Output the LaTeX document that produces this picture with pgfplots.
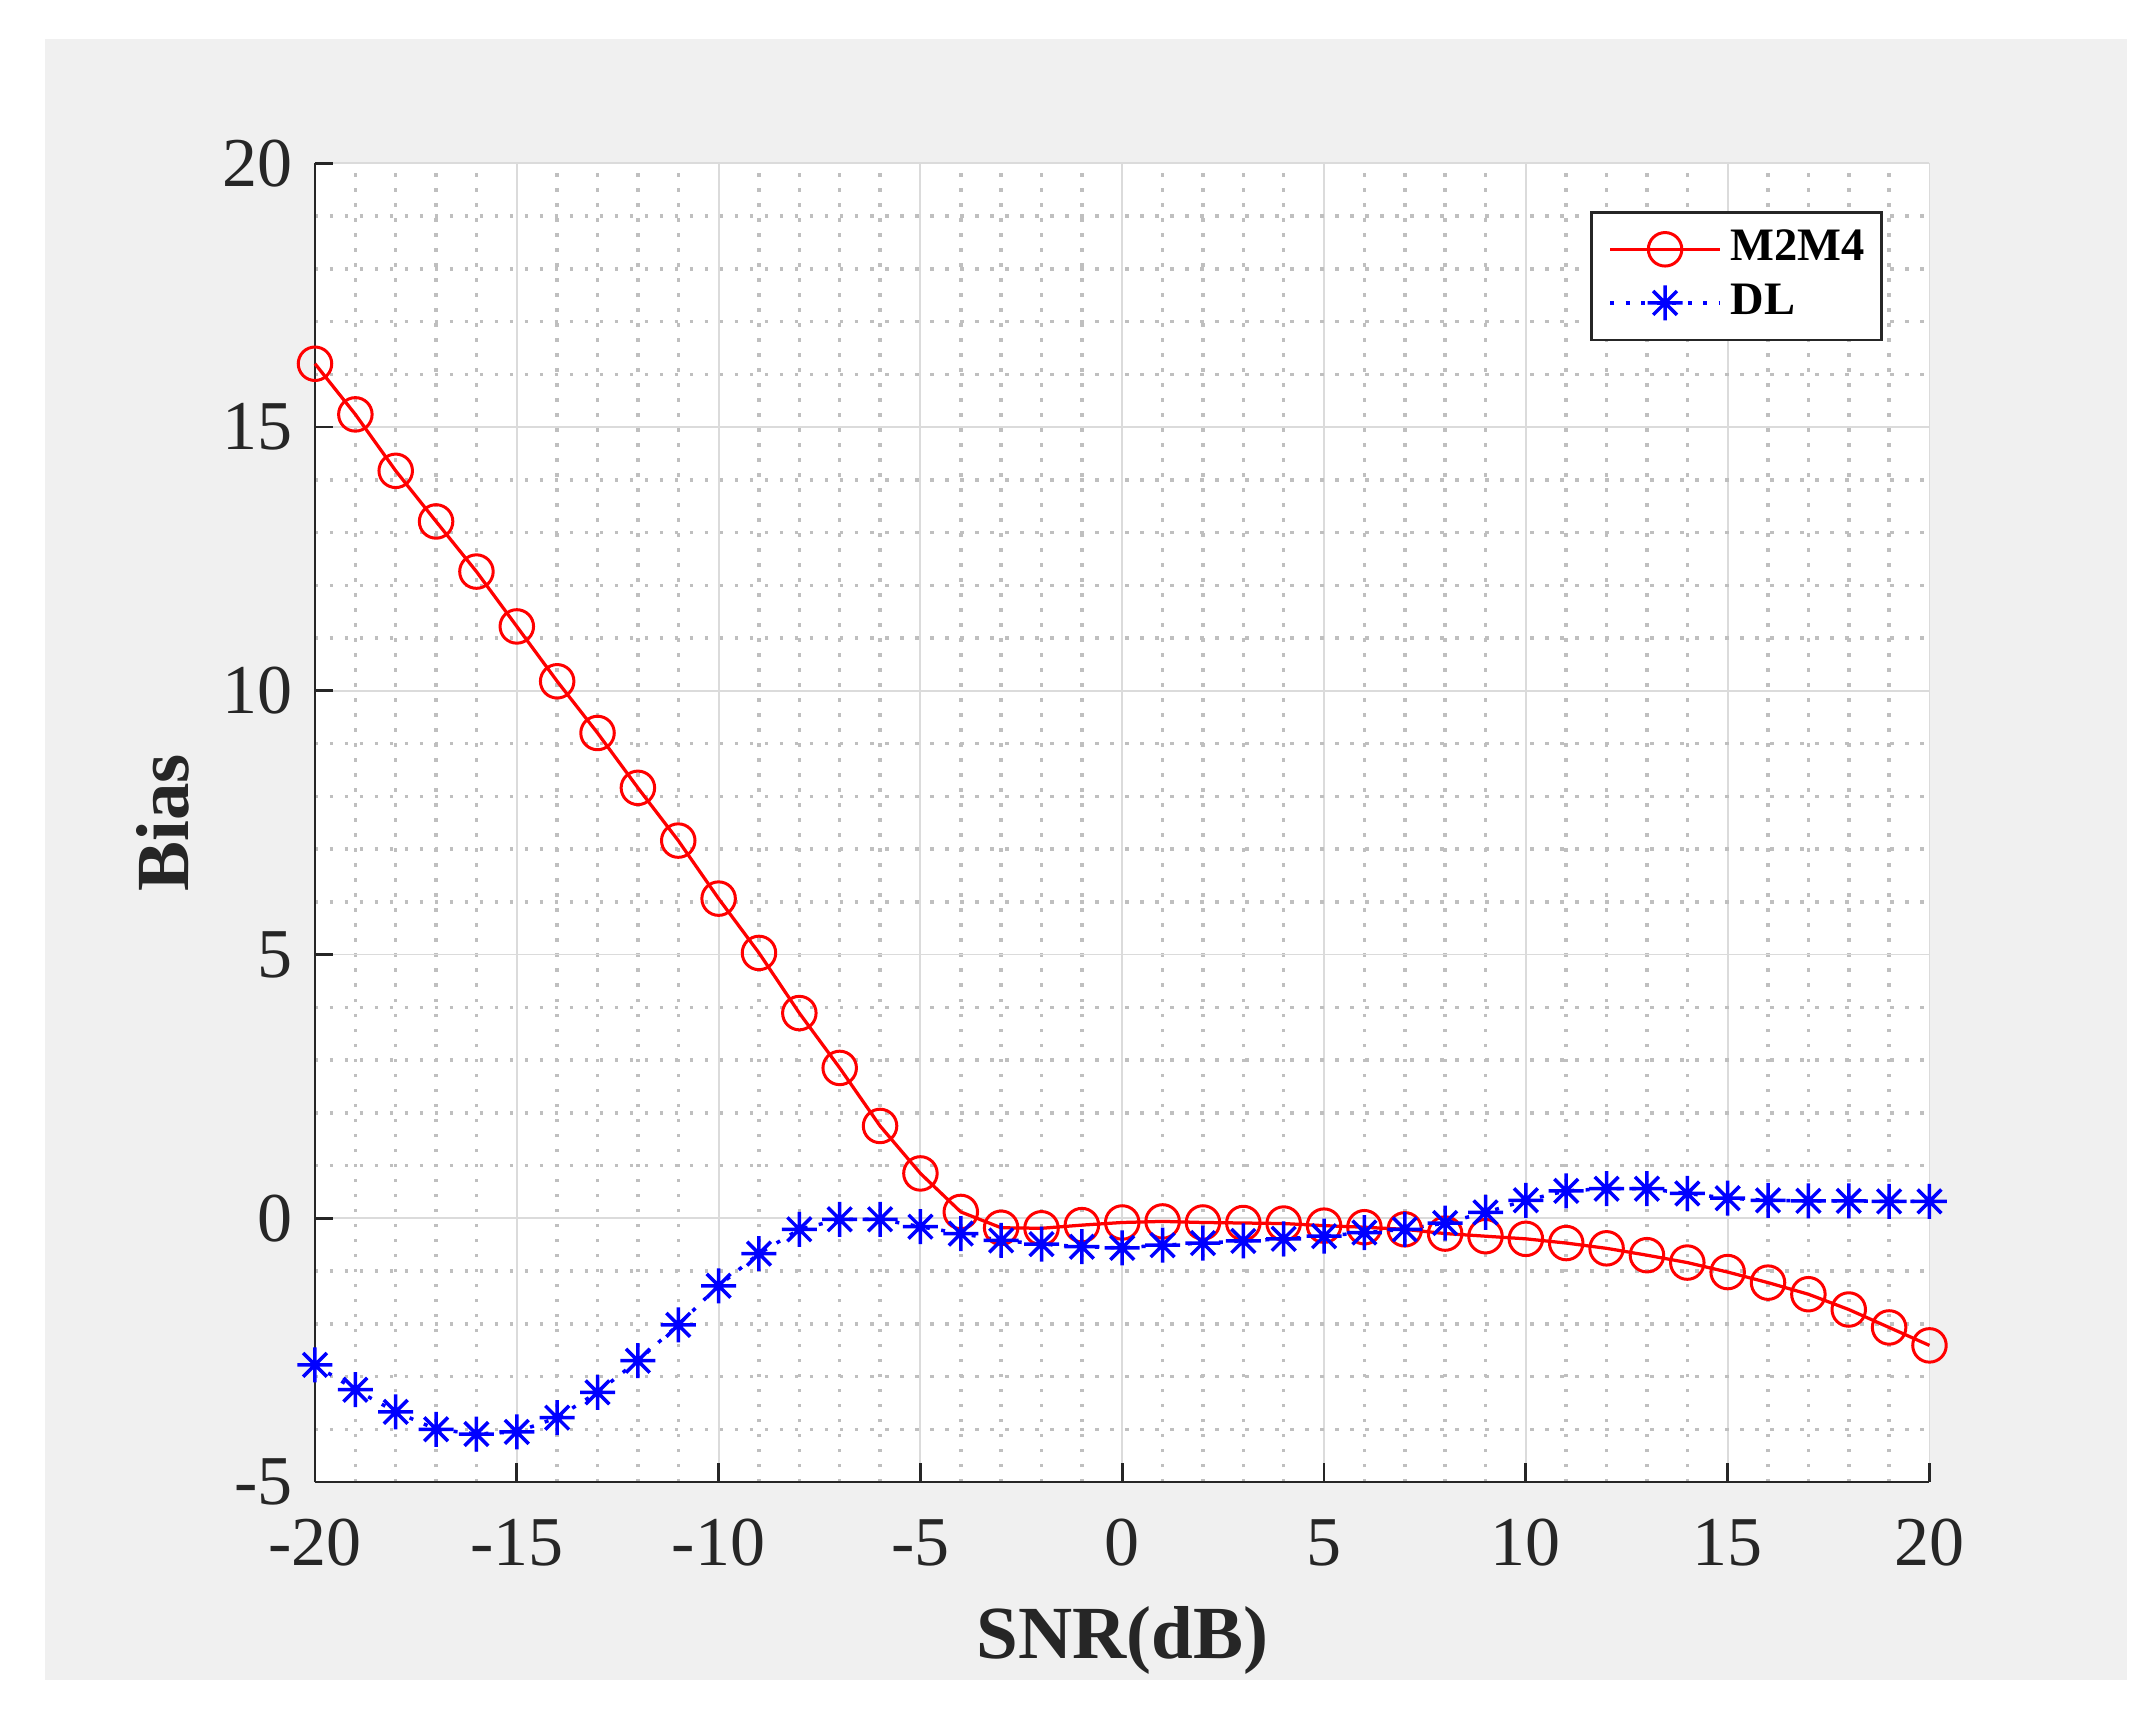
\documentclass[border=0pt]{standalone}
\usepackage{fontspec}
\setmainfont{Liberation Serif}
\usepackage{pgfplots}
\pgfplotsset{compat=1.18}
\definecolor{mgray}{rgb}{0.15,0.15,0.15}
\definecolor{figbg}{rgb}{0.941,0.941,0.941}
\definecolor{majg}{rgb}{0.86,0.86,0.86}
\definecolor{ming}{rgb}{0.75,0.75,0.75}
\pgfdeclareplotmark{mstar}{%
  \pgfpathmoveto{\pgfqpoint{0pt}{\pgfplotmarksize}}%
  \pgfpathlineto{\pgfqpoint{0pt}{-\pgfplotmarksize}}%
  \pgfpathmoveto{\pgfqpoint{\pgfplotmarksize}{0pt}}%
  \pgfpathlineto{\pgfqpoint{-\pgfplotmarksize}{0pt}}%
  \pgfpathmoveto{\pgfqpoint{0.68\pgfplotmarksize}{0.68\pgfplotmarksize}}%
  \pgfpathlineto{\pgfqpoint{-0.68\pgfplotmarksize}{-0.68\pgfplotmarksize}}%
  \pgfpathmoveto{\pgfqpoint{0.68\pgfplotmarksize}{-0.68\pgfplotmarksize}}%
  \pgfpathlineto{\pgfqpoint{-0.68\pgfplotmarksize}{0.68\pgfplotmarksize}}%
  \pgfusepathqstroke}
\begin{document}
\begin{tikzpicture}
\fill[white] (-63pt,-46.4pt) rectangle (368.2pt,296.4pt);
\fill[figbg] (-54pt,-39.6pt) rectangle (362.4pt,288.6pt);
\begin{axis}[
  at={(0pt,0pt)}, anchor=south west,
  scale only axis, width=322.9pt, height=263.74pt,
  xmin=-20, xmax=20, ymin=-5, ymax=20,
  clip=false,
  axis x line*=bottom, axis y line*=left,
  axis line style={mgray, line width=0.55pt},
  axis background/.style={fill=white},
  xtick={-20,-15,-10,-5,0,5,10,15,20},
  xticklabels={-20,-15,-10,-5,0,5,10,15,20},
  ytick={-5,0,5,10,15,20},
  yticklabels={-5,0,5,10,15,20},
  minor x tick num=4, minor y tick num=4,
  tick align=inside,
  major tick length=3.7pt, minor tick length=0pt,
  tick style={mgray, line width=0.55pt},
  grid=both,
  major grid style={majg, line width=0.38pt, solid},
  minor grid style={ming, line width=0.7pt, dash pattern=on 0.7pt off 2.3pt},
  ticklabel style={font=\fontsize{14}{16}\selectfont, text=mgray},
  xticklabel style={yshift=-3.9pt},
  yticklabel style={xshift=-1pt},
  label style={font=\fontsize{15}{18}\selectfont\bfseries, text=mgray},
  xlabel={SNR(dB)}, ylabel={Bias},
  xlabel style={at={(axis description cs:0.5,-0.1198)}, anchor=center},
  ylabel style={at={(axis description cs:-0.0941,0.5)}, anchor=center},
  legend cell align=left,
  legend style={at={(axis description cs:0.9712,0.964)}, anchor=north east,
    draw=mgray, line width=0.55pt, fill=white,
    font=\fontsize{9.3}{11}\selectfont\bfseries,
    inner xsep=3.3pt, inner ysep=3.6pt, row sep=3.1pt,
    nodes={inner sep=0pt}},
  legend image code/.code={\draw[mark repeat=2,mark phase=2,#1] plot coordinates {(0pt,0pt) (11pt,0pt) (22pt,0pt)}; \path (23.8pt,0pt);},
]
\addplot[red, line width=0.65pt, mark=o, mark size=3.35pt, mark options={solid, line width=0.6pt}] coordinates {
(-20,16.2) (-19,15.24) (-18,14.17) (-17,13.21) (-16,12.26) (-15,11.22) (-14,10.18) (-13,9.2) (-12,8.16) (-11,7.16)
(-10,6.06) (-9,5.03) (-8,3.89) (-7,2.85) (-6,1.75) (-5,0.85) (-4,0.12) (-3,-0.18) (-2,-0.19) (-1,-0.13)
(0,-0.08) (1,-0.06) (2,-0.08) (3,-0.09) (4,-0.10) (5,-0.14) (6,-0.17) (7,-0.21) (8,-0.29) (9,-0.34)
(10,-0.39) (11,-0.47) (12,-0.57) (13,-0.70) (14,-0.84) (15,-1.02) (16,-1.22) (17,-1.44) (18,-1.73) (19,-2.07) (20,-2.41)};
\addlegendentry{M2M4}
\addplot[blue, line width=0.7pt, dash pattern=on 0.8pt off 2.3pt, mark=mstar, mark size=3.5pt, mark options={solid, line width=0.7pt}] coordinates {
(-20,-2.78) (-19,-3.25) (-18,-3.67) (-17,-4.0) (-16,-4.09) (-15,-4.05) (-14,-3.78) (-13,-3.30) (-12,-2.70) (-11,-2.02)
(-10,-1.28) (-9,-0.67) (-8,-0.21) (-7,-0.02) (-6,-0.02) (-5,-0.16) (-4,-0.29) (-3,-0.42) (-2,-0.49) (-1,-0.54)
(0,-0.56) (1,-0.51) (2,-0.47) (3,-0.43) (4,-0.39) (5,-0.34) (6,-0.27) (7,-0.21) (8,-0.09) (9,0.11)
(10,0.34) (11,0.52) (12,0.56) (13,0.56) (14,0.47) (15,0.38) (16,0.34) (17,0.33) (18,0.33) (19,0.32) (20,0.32)};
\addlegendentry{DL}
\end{axis}
\end{tikzpicture}
\end{document}
